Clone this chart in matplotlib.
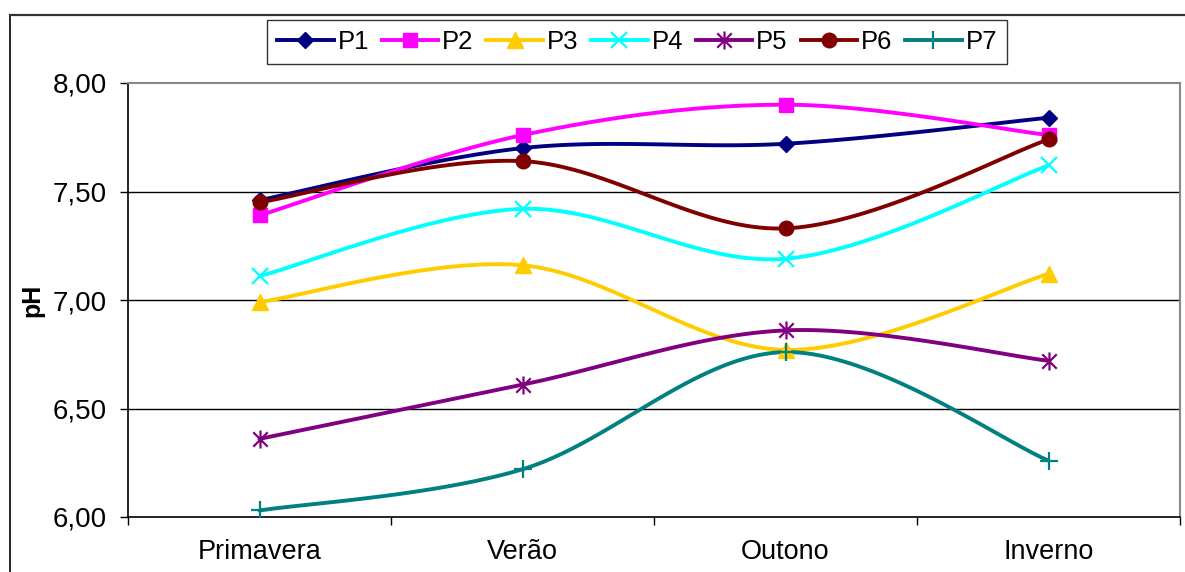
import numpy as np
import matplotlib
matplotlib.use("Agg")
import matplotlib.pyplot as plt
from matplotlib.lines import Line2D
from matplotlib.path import Path

plt.rcParams['font.family'] = ['Liberation Sans', 'DejaVu Sans']

seasons = ["Primavera", "Verão", "Outono", "Inverno"]
p1 = [7.46, 7.70, 7.72, 7.84]
p2 = [7.39, 7.76, 7.90, 7.76]
p3 = [6.99, 7.16, 6.77, 7.12]
p4 = [7.11, 7.42, 7.19, 7.62]
p5 = [6.36, 6.61, 6.86, 6.72]
p6 = [7.45, 7.64, 7.33, 7.74]
p7 = [6.03, 6.22, 6.76, 6.26]
series_names = ["P1", "P2", "P3", "P4", "P5", "P6", "P7"]
y_ticks = [6.0, 6.5, 7.0, 7.5, 8.0]

# asterisk marker: an "x" with a vertical stroke through it
star_path = Path(
    [(-0.8, -0.8), (0.8, 0.8), (-0.8, 0.8), (0.8, -0.8), (0.0, -1.0), (0.0, 1.0)],
    [Path.MOVETO, Path.LINETO, Path.MOVETO, Path.LINETO, Path.MOVETO, Path.LINETO],
)

styles = [
    dict(color="#000080", marker="D", ms=8, mfc="#000080", mec="#000080", mew=1),
    dict(color="#FF00FF", marker="s", ms=10, mfc="#FF00FF", mec="#FF00FF", mew=1),
    dict(color="#FFCC00", marker="^", ms=11, mfc="#FFCC00", mec="#FFCC00", mew=1),
    dict(color="#00FFFF", marker="x", ms=11, mfc="none", mec="#00FFFF", mew=1.6),
    dict(color="#800080", marker=star_path, ms=13, mfc="none", mec="#800080", mew=1.6),
    dict(color="#800000", marker="o", ms=10.5, mfc="#800000", mec="#800000", mew=1),
    dict(color="#008080", marker="+", ms=13, mfc="none", mec="#008080", mew=1.6),
]


def smooth(xs, ys, n=40):
    """Cubic Bezier smoothing through every point (spreadsheet style)."""
    pts = np.column_stack([xs, ys]).astype(float)
    m = len(pts)
    out = [pts[0]]
    t = np.linspace(0, 1, n + 1)[1:][:, None]
    for i in range(m - 1):
        p0 = pts[i - 1] if i > 0 else pts[i]
        a = pts[i]
        b = pts[i + 1]
        p3 = pts[i + 2] if i + 2 < m else pts[i + 1]
        c1 = a + (b - p0) / 6.0
        c2 = b - (p3 - a) / 6.0
        seg = ((1 - t) ** 3) * a + 3 * ((1 - t) ** 2) * t * c1 + 3 * (1 - t) * t ** 2 * c2 + t ** 3 * b
        out.extend(seg)
    out = np.array(out)
    return out[:, 0], out[:, 1]


fig = plt.figure(figsize=(11.85, 5.72), dpi=100)
ax = fig.add_axes([128 / 1185, 55 / 572, 1052 / 1185, 434 / 572])

xs = np.arange(len(seasons))
handles = []
for name, vals, st in zip(series_names, [p1, p2, p3, p4, p5, p6, p7], styles):
    sx, sy = smooth(xs, vals)
    ax.plot(sx, sy, color=st["color"], lw=2.8, solid_capstyle="round", zorder=3)
    ax.plot(xs, vals, linestyle="none", marker=st["marker"], ms=st["ms"],
            mfc=st["mfc"], mec=st["mec"], mew=st["mew"], zorder=4)
    handles.append(Line2D([], [], color=st["color"], lw=2.8, marker=st["marker"],
                          ms=st["ms"], mfc=st["mfc"], mec=st["mec"], mew=st["mew"]))

ax.set_xlim(-0.5, len(seasons) - 0.5)
ax.set_ylim(6.0, 8.0)

# category boundaries carry the tick marks, names sit at the centres
ax.set_xticks(np.arange(-0.5, len(seasons)), minor=False)
ax.set_xticklabels([])
ax.set_xticks(xs, minor=True)
ax.set_xticklabels(seasons, minor=True, fontsize=19.5)
ax.tick_params(axis="x", which="major", direction="out", length=6, width=1, color="black")
ax.tick_params(axis="x", which="minor", length=0, pad=16)

ax.set_yticks(y_ticks)
ax.set_yticklabels([f"{v:.2f}".replace(".", ",") for v in y_ticks], fontsize=20)
ax.tick_params(axis="y", direction="out", length=6, width=1, pad=9)

for v in y_ticks[1:-1]:
    ax.axhline(v, color="black", lw=1, zorder=1)

for side in ("top", "right"):
    ax.spines[side].set_color("#888888")
    ax.spines[side].set_linewidth(1.5)
for side in ("left", "bottom"):
    ax.spines[side].set_color("black")
    ax.spines[side].set_linewidth(1.2)

fig.text(32 / 1185, 1 - 300 / 572, "pH", rotation=90, ha="center", va="center",
         fontsize=18, fontweight="bold")

leg = fig.legend(handles, series_names, loc="center", bbox_to_anchor=(637 / 1185, 1 - 42 / 572),
                 ncol=7, fontsize=18.5, frameon=True, fancybox=False, handlelength=2.2,
                 handletextpad=0.15, columnspacing=0.5, borderpad=0.4, borderaxespad=0)
leg.get_frame().set_edgecolor("black")
leg.get_frame().set_linewidth(1.0)

# outer chart border (left and top edges visible)
fig.add_artist(Line2D([9.5 / 1185, 9.5 / 1185], [0, 1 - 15 / 572], transform=fig.transFigure,
                      color="black", lw=1.2))
fig.add_artist(Line2D([9.5 / 1185, 1], [1 - 15 / 572, 1 - 15 / 572], transform=fig.transFigure,
                      color="#333333", lw=1.6))

fig.savefig("out.png", dpi=100)
